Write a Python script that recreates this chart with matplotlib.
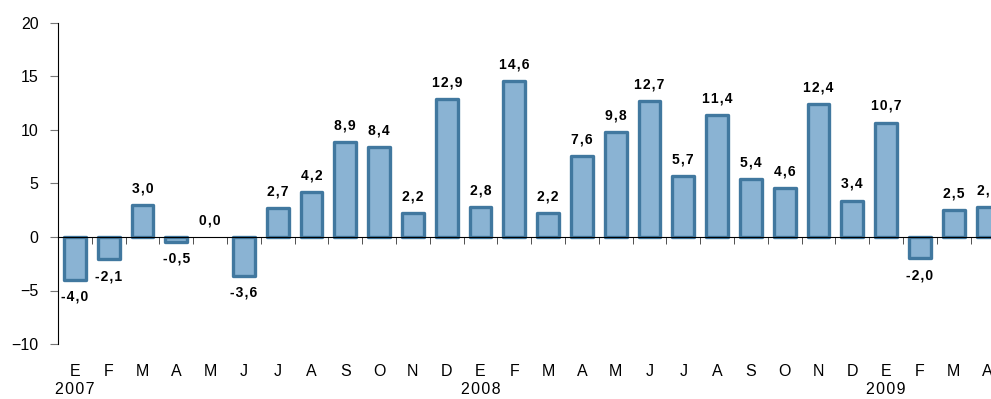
import matplotlib.pyplot as plt
import numpy as np

plt.rcParams['font.family'] = ['Liberation Sans', 'DejaVu Sans']

meses = ['E', 'F', 'M', 'A', 'M', 'J', 'J', 'A', 'S', 'O', 'N', 'D',
         'E', 'F', 'M', 'A', 'M', 'J', 'J', 'A', 'S', 'O', 'N', 'D',
         'E', 'F', 'M', 'A']
anios = {0: '2007', 12: '2008', 24: '2009'}
valores = [-4.0, -2.1, 3.0, -0.5, 0.0, -3.6, 2.7, 4.2, 8.9, 8.4, 2.2, 12.9,
           2.8, 14.6, 2.2, 7.6, 9.8, 12.7, 5.7, 11.4, 5.4, 4.6, 12.4, 3.4,
           10.7, -2.0, 2.5, 2.8]


def espaciar(s):
    # separa un poco los caracteres (espacio muy fino entre cada uno)
    return '\u200a'.join(s)


fig = plt.figure(figsize=(9.91, 3.99), dpi=100)
ax = fig.add_axes([58 / 991, 1 - 344 / 399, 1 - 58 / 991, 321 / 399])

x = np.arange(len(valores))
# sin borde en las barras de altura cero
bordes = [0 if v == 0 else 2.4 for v in valores]
ax.bar(x, valores, width=0.64, color='#8ab3d3', edgecolor='#41789f',
       linewidth=bordes, joinstyle='round', zorder=2)

for xi, v in zip(x, valores):
    etiqueta = espaciar(f'{v:.1f}'.replace('.', ','))
    if v >= 0:
        ax.text(xi, v + 0.9, etiqueta, ha='center', va='bottom',
                fontsize=10, fontweight='bold')
    else:
        ax.text(xi, v - 0.9, etiqueta, ha='center', va='top',
                fontsize=10, fontweight='bold')

ax.set_ylim(-10, 20)
ax.set_yticks([-10, -5, 0, 5, 10, 15, 20])
ax.tick_params(axis='y', direction='out', length=6, color='#777777',
               labelsize=11.5, pad=8)

ax.spines['top'].set_visible(False)
ax.spines['right'].set_visible(False)
ax.spines['bottom'].set_position(('data', 0))
ax.spines['bottom'].set_zorder(3)
ax.set_xticks([])
ax.set_xticks(x + 0.5, minor=True)
ax.tick_params(axis='x', which='minor', direction='out', length=5,
               color='#333333')
ax.set_xlim(-0.5, -0.5 + 933 / 33.8)

trans = ax.get_xaxis_transform()
for xi, m in zip(x, meses):
    ax.text(xi, -0.085, m, ha='center', va='center', fontsize=11.5,
            transform=trans)
for xi, a in anios.items():
    ax.text(xi, -0.143, espaciar(a), ha='center', va='center',
            fontsize=11.5, transform=trans)

fig.savefig('out.png', dpi=100)
